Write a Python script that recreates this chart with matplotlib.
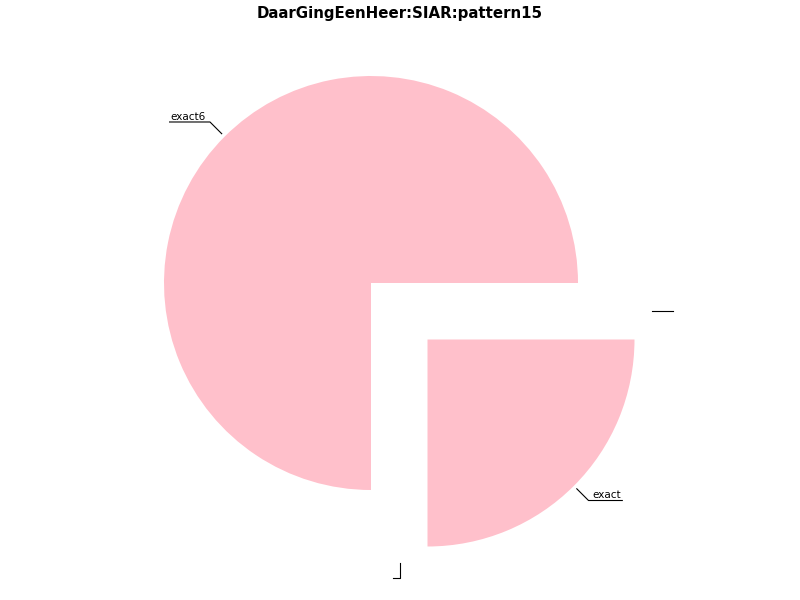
import numpy as np
import matplotlib
matplotlib.use("Agg")
import matplotlib.pyplot as plt

# data
labels = ["exact6", "exact"]
values = [75, 25]
explode = [0, 0.386]
cor = "pink"

fig = plt.figure(figsize=(8, 6), dpi=100)
ax = fig.add_axes([0, 0, 1, 1])

wedges, _ = ax.pie(values, explode=explode, colors=[cor] * len(values),
                   startangle=0, counterclock=True, radius=1,
                   wedgeprops={"linewidth": 0})

ax.set_aspect("auto")
ax.set_xlim(-371 / 207, 429 / 207)
ax.set_ylim(-317 / 207, 283 / 207)
ax.axis("off")

fig.canvas.draw()
renderer = fig.canvas.get_renderer()

# labels com linhas de chamada
for w, lab in zip(wedges, labels):
    ang = np.deg2rad((w.theta1 + w.theta2) / 2)
    cx, cy = w.center
    dx, dy = np.cos(ang), np.sin(ang)
    p0 = (cx + 1.02 * dx, cy + 1.02 * dy)
    p1 = (cx + 1.10 * dx, cy + 1.10 * dy)
    sgn = 1 if dx >= 0 else -1
    t = ax.text(p1[0] + sgn * 0.02, p1[1] + 0.002, lab, fontsize=7.5,
                ha="left" if sgn > 0 else "right", va="bottom")
    bb = t.get_window_extent(renderer).transformed(ax.transData.inverted())
    x_end = bb.x1 + 0.005 if sgn > 0 else bb.x0 - 0.005
    ax.plot([p0[0], p1[0], x_end], [p0[1], p1[1], p1[1]], color="black", lw=0.8)

# linhas soltas (rotulos vazios)
ax.plot([(652 - 371) / 207, (673 - 371) / 207], [(283 - 311) / 207] * 2, color="black", lw=0.8)
ax.plot([(393 - 371) / 207, (400 - 371) / 207, (400 - 371) / 207],
        [(283 - 578) / 207, (283 - 578) / 207, (283 - 563) / 207], color="black", lw=0.8)

fig.text(0.5, 0.978, "DaarGingEenHeer:SIAR:pattern15", ha="center", va="center",
         fontsize=10.8, fontweight="bold")

fig.savefig("out.png", dpi=100, facecolor="white")
